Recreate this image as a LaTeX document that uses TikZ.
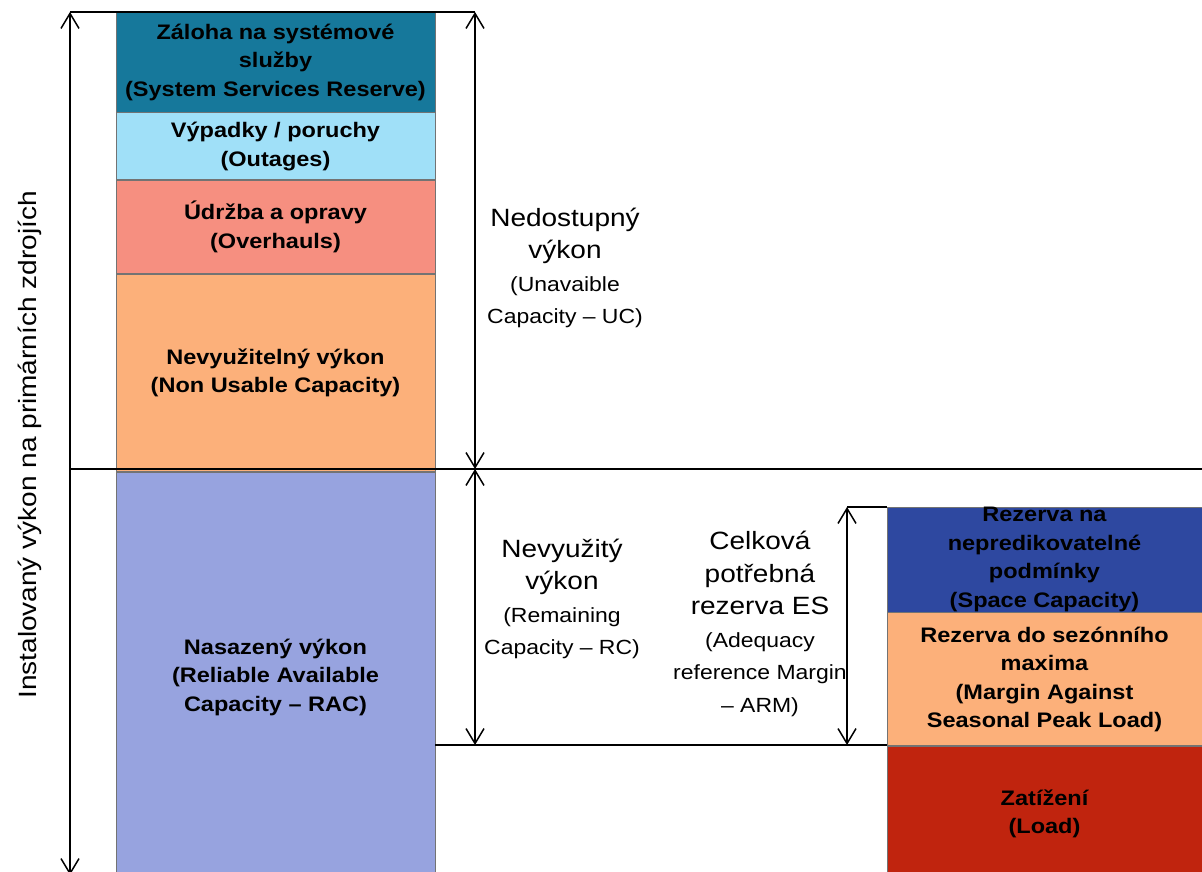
\documentclass[tikz,border=0pt]{standalone}
\usepackage{fontspec}
\setmainfont{Liberation Sans}[FakeStretch=1.12]
\usetikzlibrary{positioning}
\usetikzlibrary{arrows.meta}

\definecolor{reserveteal}{RGB}{22,120,155}
\definecolor{outagecyan}{RGB}{160,224,248}
\definecolor{overhaulsalmon}{RGB}{246,143,128}
\definecolor{nonusableorange}{RGB}{252,176,122}
\definecolor{reliablelavender}{RGB}{151,163,223}
\definecolor{sparedarkblue}{RGB}{46,72,160}
\definecolor{loadred}{RGB}{192,36,14}

\newcommand{\subcap}{\fontsize{20.5}{26}\selectfont}

\begin{document}
\begin{tikzpicture}[x=1pt,y=-1pt,
    box/.style={draw=black!55, line width=0.8pt, inner sep=0pt, align=center,
        font=\fontsize{21}{28.5}\selectfont\bfseries},
    left box/.style={box, minimum width=319pt},
    right box/.style={box, minimum width=315pt},
    thin rule/.style={line width=1.4pt},
    dimension/.style={line width=1.5pt,
        {Straight Barb[length=15pt,width=18pt]}-{Straight Barb[length=15pt,width=18pt]}},
    caption/.style={align=center, font=\fontsize{25}{32.5}\selectfont}]
    \useasboundingbox (0,0) rectangle (1202,872);

    \node [left box, fill=reserveteal, minimum height=100pt] (zaloha) at (275.5,62)
        {Záloha na systémové\\služby\\(System Services Reserve)};
    \node [left box, fill=outagecyan, minimum height=67pt, below=0pt of zaloha] (vypadky)
        {Výpadky / poruchy\\(Outages)};
    \node [left box, fill=overhaulsalmon, minimum height=93pt, below=0pt of vypadky] (udrzba)
        {Údržba a opravy\\(Overhauls)};
    \node [left box, fill=nonusableorange, minimum height=197pt, below=0pt of udrzba] (nevyuzitelny)
        {Nevyužitelný výkon\\(Non Usable Capacity)};
    \node [left box, fill=reliablelavender, minimum height=410pt, below=0pt of nevyuzitelny] (nasazeny)
        {Nasazený výkon\\(Reliable Available\\Capacity – RAC)};

    \node [right box, fill=sparedarkblue, minimum height=105pt] (nepredikovatelne) at (1044.5,559.5)
        {Rezerva na\\nepredikovatelné\\podmínky\\(Space Capacity)};
    \node [right box, fill=nonusableorange, minimum height=133pt, below=0pt of nepredikovatelne] (sezonni)
        {Rezerva do sezónního\\maxima\\(Margin Against\\Seasonal Peak Load)};
    \node [right box, fill=loadred, minimum height=134pt, below=0pt of sezonni] (zatizeni)
        {Zatížení\\(Load)};

    \coordinate (installed top) at (70,12);
    \coordinate (installed bottom) at (70,875);
    \coordinate (unavailable top) at (475,12);
    \coordinate (split left) at (70,469);
    \coordinate (split mid) at (475,469);
    \coordinate (split right) at (1202,469);
    \coordinate (remaining bottom) at (475,745);
    \coordinate (margin top) at (847,507);
    \coordinate (margin bottom) at (847,745);

    \draw [thin rule] (installed top) -- (unavailable top);
    \draw [thin rule] (split left) -- (split right);
    \draw [thin rule] (nasazeny.east |- remaining bottom) -- (remaining bottom -| sezonni.west);
    \draw [thin rule] (margin top) -- (margin top -| nepredikovatelne.west);

    \draw [dimension] (installed top) -- (installed bottom);
    \draw [dimension] (unavailable top) -- (split mid);
    \draw [dimension] (split mid) -- (remaining bottom);
    \draw [dimension] (margin top) -- (margin bottom);

    \node [caption] (unavailable label) at (565,268)
        {Nedostupný\\výkon\\\subcap(Unavaible\\\subcap Capacity – UC)};
    \node [caption] (remaining label) at (562,599)
        {Nevyužitý\\výkon\\\subcap(Remaining\\\subcap Capacity – RC)};
    \node [caption] (margin label) at (760,624)
        {Celková\\potřebná\\rezerva ES\\\subcap(Adequacy\\\subcap reference Margin\\\subcap – ARM)};
    \node [caption, rotate=90] (installed label) at (30,445)
        {Instalovaný výkon na primárních zdrojích};
\end{tikzpicture}
\end{document}
